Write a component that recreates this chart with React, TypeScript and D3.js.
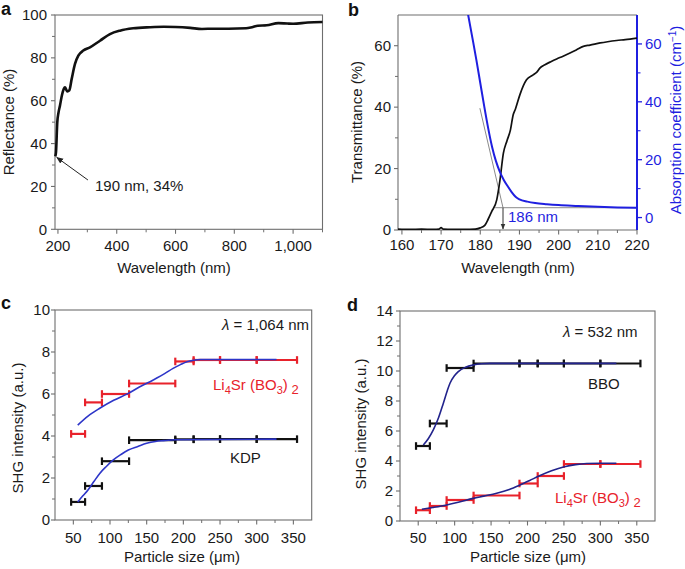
import React from 'react';
import * as d3 from 'd3';

// ---------- Panel a: reflectance ----------
const reflWl = [191, 193.4, 197.8, 202, 207, 212, 216.2, 220, 224, 228, 231.8, 238.6, 246.8, 258, 269.3, 286.3, 309, 343, 377, 411, 456, 513, 560, 600, 650, 690, 730, 780, 840, 860, 880, 910, 950, 980, 1000, 1050, 1100];
const reflVal = [34, 36, 50, 54.5, 57.8, 61.5, 64, 65.6, 66.3, 65.2, 64.3, 64.8, 70.2, 77.2, 81, 83.4, 84.9, 88, 91.1, 92.7, 93.8, 94.3, 94.5, 94.4, 94, 93.5, 93.6, 93.6, 93.8, 94.3, 95, 95.2, 96.2, 96, 95.9, 96.5, 96.7];
const aXTicks = [200, 400, 600, 800, 1000];
const aXMinor = [300, 500, 700, 900, 1100];
const aYTicks = [0, 20, 40, 60, 80, 100];
const aYMinor = [10, 30, 50, 70, 90];
const aNoteTip = [191, 34];
const aNoteTail = [302, 23];

// ---------- Panel b: transmittance / absorption ----------
const transWl = [159, 162, 165, 168, 169.5, 170, 170.5, 173, 176, 178.7, 180, 181.2, 182, 182.9, 184.2, 185, 185.9, 186.8, 187.7, 188.4, 189, 190.1, 191, 191.8, 193.5, 194.5, 195.2, 196.5, 198, 199.5, 201, 202.9, 204.5, 206.3, 208, 210.6, 212.5, 214.8, 217, 220];
const transVal = [0.3, 0.2, 0.3, 0.2, 0.3, 0.8, 0.3, 0.2, 0.2, 0.3, 0.7, 1.6, 3.5, 6, 9.8, 16, 25, 29, 32.6, 37.5, 39.5, 44, 47, 48.9, 50.5, 51.5, 52.7, 53.8, 54.8, 55.7, 56.5, 57.6, 58.6, 59.8, 60.2, 60.9, 61.3, 61.7, 62, 62.5];
const absWl = [176.5, 178, 179, 180, 181, 182, 183, 184, 185, 186, 187, 188, 189, 190, 192, 194, 197, 200, 205, 210, 215, 220];
const absVal = [73, 62, 54.5, 46.5, 38.5, 31, 24.5, 19.5, 15.8, 13, 10.8, 8.8, 7.2, 6.3, 5.5, 5.0, 4.6, 4.3, 4.0, 3.7, 3.5, 3.4];
const bXTicks = [160, 170, 180, 190, 200, 210, 220];
const bXMinor = [165, 175, 185, 195, 205, 215];
const bYTicks = [0, 20, 40, 60];
const bYMinor = [10, 30, 50];
const bRTicks = [0, 20, 40, 60];
const bRMinor = [10, 30, 50];
const bBaseline = 3.4; // absorption baseline
const bBaseStart = 183.8;
const bEdge = 185.8; // absorption edge
const bTangentTop = [179.9, 37.8];

// ---------- Panels c, d: SHG ----------
const sizeLo = [47, 66, 89, 126, 189, 214, 250, 300];
const sizeHi = [66, 89, 126, 189, 214, 250, 300, 355];
const cLiVal = [4.1, 5.6, 6.0, 6.5, 7.55, 7.62, 7.62, 7.62];
const cKdpVal = [0.86, 1.62, 2.8, 3.8, 3.84, 3.85, 3.85, 3.85];
const dBboVal = [5.0, 6.5, 10.2, 10.5, 10.5, 10.5, 10.5, 10.5];
const dLiVal = [0.72, 1.0, 1.4, 1.7, 2.5, 3.0, 3.8, 3.8];

const cFitLiX = [56, 70, 86, 105, 125, 140, 159, 175, 186, 196, 205, 214, 223, 240, 327];
const cFitLiY = [4.52, 4.95, 5.32, 5.7, 6.03, 6.33, 6.67, 6.98, 7.22, 7.4, 7.54, 7.61, 7.64, 7.64, 7.64];
const cFitKdpX = [56, 63, 70, 78, 86, 95, 104.5, 115, 125, 138, 150, 162, 173, 189, 327];
const cFitKdpY = [0.86, 1.15, 1.43, 1.83, 2.22, 2.55, 2.86, 3.12, 3.33, 3.5, 3.65, 3.74, 3.78, 3.82, 3.85];
const dFitBboX = [57, 64, 70.7, 78, 84.4, 90, 93.6, 100, 105, 115, 125.6, 137, 148.5, 322];
const dFitBboY = [5.07, 5.5, 6.07, 6.9, 7.84, 8.7, 9.18, 9.7, 9.96, 10.25, 10.4, 10.48, 10.51, 10.51];
const dFitLiX = [55, 70, 89, 105, 125.6, 140, 157.7, 175, 189.7, 203, 215.8, 233, 250.6, 266, 281.3, 300, 322];
const dFitLiY = [0.78, 0.9, 1.07, 1.25, 1.51, 1.66, 1.85, 2.1, 2.4, 2.7, 3.0, 3.35, 3.62, 3.76, 3.83, 3.85, 3.85];

const sXTicks = [50, 100, 150, 200, 250, 300, 350];
const sXMinor = [75, 125, 175, 225, 275, 325];
const cYTicks = [0, 2, 4, 6, 8, 10];
const cYMinor = [1, 3, 5, 7, 9];
const dYTicks = [0, 2, 4, 6, 8, 10, 12, 14];
const dYMinor = [1, 3, 5, 7, 9, 11, 13];

const FONT = "'Liberation Sans', Arial, Helvetica, sans-serif";
const GRAY = '#6e6e6e';
const TXT = '#1a1a1a';
const RED = '#e8222b';
const BLUE_B = '#1f1fe0';
const BLUE_C = '#2d35c8';
const BLUE_D = '#22238c';

type Scale = d3.ScaleLinear<number, number>;

function Frame({ x, y }: { x: Scale; y: Scale }) {
  const [x0, x1] = x.range();
  const [y0, y1] = y.range();
  return <rect x={x0} y={y1} width={x1 - x0} height={y0 - y1} fill="none" stroke={GRAY} strokeWidth={1.1} />;
}

function BottomAxis({ x, y, ticks, minor, fmt, labelY }: { x: Scale; y: Scale; ticks: number[]; minor: number[]; fmt: (v: number) => string; labelY: number }) {
  const yb = y.range()[0];
  return (
    <g>
      {ticks.map((t) => <line key={'M' + t} x1={x(t)} x2={x(t)} y1={yb} y2={yb + 4.5} stroke={GRAY} strokeWidth={1.1} />)}
      {minor.map((t) => <line key={'m' + t} x1={x(t)} x2={x(t)} y1={yb} y2={yb + 3} stroke={GRAY} strokeWidth={1} />)}
      {ticks.map((t) => <text key={'L' + t} x={x(t)} y={labelY} dy="0.35em" textAnchor="middle" fontSize={15} fill={TXT}>{fmt(t)}</text>)}
    </g>
  );
}

function LeftAxis({ x, y, ticks, minor, labelX }: { x: Scale; y: Scale; ticks: number[]; minor: number[]; labelX: number }) {
  const xl = x.range()[0];
  return (
    <g>
      {ticks.map((t) => <line key={'M' + t} x1={xl} x2={xl - 4} y1={y(t)} y2={y(t)} stroke={GRAY} strokeWidth={1.1} />)}
      {minor.map((t) => <line key={'m' + t} x1={xl} x2={xl - 3} y1={y(t)} y2={y(t)} stroke={GRAY} strokeWidth={1} />)}
      {ticks.map((t) => <text key={'L' + t} x={labelX} y={y(t)} dy="0.35em" textAnchor="end" fontSize={15} fill={TXT}>{t}</text>)}
    </g>
  );
}

function ErrBars({ x, y, vals, color }: { x: Scale; y: Scale; vals: number[]; color: string }) {
  return (
    <g stroke={color} strokeWidth={2.2} fill="none">
      {vals.map((v, i) => (
        <g key={i}>
          <line x1={x(sizeLo[i])} x2={x(sizeHi[i])} y1={y(v)} y2={y(v)} />
          <line x1={x(sizeLo[i])} x2={x(sizeLo[i])} y1={y(v) - 3.8} y2={y(v) + 3.8} />
          <line x1={x(sizeHi[i])} x2={x(sizeHi[i])} y1={y(v) - 3.8} y2={y(v) + 3.8} />
        </g>
      ))}
    </g>
  );
}

function fitPath(x: Scale, y: Scale, xs: number[], ys: number[]) {
  const line = d3.line<number>().x((_, i) => x(xs[i])).y((v) => y(v)).curve(d3.curveMonotoneX);
  return line(ys) || '';
}

function LiLabel({ x, y }: { x: number; y: number }) {
  return (
    <text x={x} y={y} fontSize={15} fill={RED}>
      Li<tspan dy={4} fontSize={11}>4</tspan>
      <tspan dy={-4}>Sr (BO</tspan>
      <tspan dy={4} fontSize={11}>3</tspan>
      <tspan dy={-4}>)</tspan>
      <tspan dy={4} fontSize={13}> 2</tspan>
    </text>
  );
}

export default function App() {
  React.useEffect(() => {
    document.body.style.margin = '0';
  }, []);

  const fmtC = d3.format(',');
  const fmtP = (v: number) => String(v);

  // scales
  const xa = d3.scaleLinear().domain([190, 1100]).range([55, 322.5]);
  const ya = d3.scaleLinear().domain([0, 100]).range([229.3, 15]);
  const xb = d3.scaleLinear().domain([159, 220]).range([398, 637]);
  const ybL = d3.scaleLinear().domain([0, 70]).range([230, 15]);
  const ybR = d3.scaleLinear().domain([-4.3, 70]).range([230, 15]);
  const xc = d3.scaleLinear().domain([25, 375]).range([55, 311.7]);
  const yc = d3.scaleLinear().domain([0, 10]).range([520, 310]);
  const xd = d3.scaleLinear().domain([25, 375]).range([400, 655]);
  const yd = d3.scaleLinear().domain([0, 14]).range([521, 311]);

  const reflPath = d3.line<number>().x((_, i) => xa(reflWl[i])).y((v) => ya(v)).curve(d3.curveMonotoneX)(reflVal) || '';
  const transPath = d3.line<number>().x((_, i) => xb(transWl[i])).y((v) => ybL(v)).curve(d3.curveMonotoneX)(transVal) || '';
  const absPath = d3.line<number>().x((_, i) => xb(absWl[i])).y((v) => ybR(v)).curve(d3.curveMonotoneX)(absVal) || '';

  return (
    <svg width={685} height={569} style={{ display: 'block', position: 'absolute', left: 0, top: 0, background: '#fff' }} fontFamily={FONT}>
      <defs>
        <marker id="arrA" viewBox="0 0 10 10" refX={9} refY={5} markerWidth={7} markerHeight={7} orient="auto" markerUnits="userSpaceOnUse">
          <path d="M0,1 L10,5 L0,9 z" fill="#222" />
        </marker>
        <marker id="arrB" viewBox="0 0 10 10" refX={9} refY={5} markerWidth={6} markerHeight={6} orient="auto" markerUnits="userSpaceOnUse">
          <path d="M0,1 L10,5 L0,9 z" fill="#333" />
        </marker>
        <clipPath id="clipB">
          <rect x={398} y={15} width={239} height={215} />
        </clipPath>
      </defs>

      {/* ---------- a ---------- */}
      <text x={1} y={15} fontSize={18} fontWeight="bold" fill="#111">a</text>
      <Frame x={xa} y={ya} />
      <LeftAxis x={xa} y={ya} ticks={aYTicks} minor={aYMinor} labelX={47} />
      <BottomAxis x={xa} y={ya} ticks={aXTicks} minor={aXMinor} fmt={fmtC} labelY={246} />
      <path d={reflPath} fill="none" stroke="#111" strokeWidth={2.6} strokeLinejoin="round" />
      <line x1={xa(aNoteTail[0])} y1={ya(aNoteTail[1])} x2={xa(aNoteTip[0]) + 1.5} y2={ya(aNoteTip[1]) + 1} stroke="#222" strokeWidth={1} markerEnd="url(#arrA)" />
      <text x={95} y={186} dy="0.35em" fontSize={15} fill={TXT}>190 nm, 34%</text>
      <text x={174} y={268} dy="0.35em" textAnchor="middle" fontSize={15} fill={TXT}>Wavelength (nm)</text>
      <text transform="translate(9,122) rotate(-90)" dy="0.35em" textAnchor="middle" fontSize={15} fill={TXT}>Reflectance (%)</text>

      {/* ---------- b ---------- */}
      <text x={348} y={16} fontSize={18} fontWeight="bold" fill="#111">b</text>
      <line x1={398} x2={637} y1={15} y2={15} stroke={GRAY} strokeWidth={1.1} />
      <line x1={398} x2={398} y1={15} y2={230} stroke={GRAY} strokeWidth={1.1} />
      <line x1={398} x2={637} y1={230} y2={230} stroke={GRAY} strokeWidth={1.1} />
      <LeftAxis x={xb} y={ybL} ticks={bYTicks} minor={bYMinor} labelX={391} />
      <BottomAxis x={xb} y={ybL} ticks={bXTicks} minor={bXMinor} fmt={fmtP} labelY={245} />
      {/* right axis */}
      <line x1={637} x2={637} y1={15} y2={230} stroke={BLUE_B} strokeWidth={2} />
      {bRTicks.map((t) => <line key={'r' + t} x1={637} x2={642} y1={ybR(t)} y2={ybR(t)} stroke={BLUE_B} strokeWidth={1.3} />)}
      {bRMinor.map((t) => <line key={'rm' + t} x1={637} x2={640.5} y1={ybR(t)} y2={ybR(t)} stroke={BLUE_B} strokeWidth={1.1} />)}
      {bRTicks.map((t) => <text key={'rl' + t} x={645} y={ybR(t)} dy="0.35em" fontSize={15} fill={BLUE_B}>{t}</text>)}
      <g clipPath="url(#clipB)">
        <line x1={xb(bBaseStart)} x2={xb(220)} y1={ybR(bBaseline)} y2={ybR(bBaseline)} stroke="#8a8a8a" strokeWidth={1} />
        <line x1={xb(bTangentTop[0])} y1={ybR(bTangentTop[1])} x2={xb(bEdge)} y2={ybR(bBaseline)} stroke="#8a8a8a" strokeWidth={1} />
        <path d={transPath} fill="none" stroke="#111" strokeWidth={1.7} />
        <path d={absPath} fill="none" stroke={BLUE_B} strokeWidth={2} />
      </g>
      <line x1={xb(bEdge)} x2={xb(bEdge)} y1={ybR(bBaseline)} y2={ybL(0) - 1} stroke="#333" strokeWidth={1} markerEnd="url(#arrB)" />
      <text x={508} y={217} dy="0.35em" fontSize={15} fill={BLUE_B}>186 nm</text>
      <text x={518} y={268} dy="0.35em" textAnchor="middle" fontSize={15} fill={TXT}>Wavelength (nm)</text>
      <text transform="translate(357,122) rotate(-90)" dy="0.35em" textAnchor="middle" fontSize={15} fill={TXT}>Transmittance (%)</text>
      <text transform="translate(676,120) rotate(-90)" dy="0.35em" textAnchor="middle" fontSize={15} fill={BLUE_B}>
        Absorption coefficient (cm<tspan dy={-5} fontSize={10}>−1</tspan><tspan dy={5}>)</tspan>
      </text>

      {/* ---------- c ---------- */}
      <text x={1} y={309} fontSize={18} fontWeight="bold" fill="#111">c</text>
      <Frame x={xc} y={yc} />
      <LeftAxis x={xc} y={yc} ticks={cYTicks} minor={cYMinor} labelX={50} />
      <BottomAxis x={xc} y={yc} ticks={sXTicks} minor={sXMinor} fmt={fmtP} labelY={538} />
      <ErrBars x={xc} y={yc} vals={cLiVal} color={RED} />
      <ErrBars x={xc} y={yc} vals={cKdpVal} color="#111" />
      <path d={fitPath(xc, yc, cFitLiX, cFitLiY)} fill="none" stroke={BLUE_C} strokeWidth={1.6} />
      <path d={fitPath(xc, yc, cFitKdpX, cFitKdpY)} fill="none" stroke={BLUE_C} strokeWidth={1.6} />
      <text x={222} y={325} dy="0.35em" fontSize={15} fill={TXT}><tspan fontStyle="italic">λ</tspan> = 1,064 nm</text>
      <LiLabel x={213} y={390} />
      <text x={230} y={463} fontSize={15} fill={TXT}>KDP</text>
      <text x={182} y={557} dy="0.35em" textAnchor="middle" fontSize={15} fill={TXT}>Particle size (μm)</text>
      <text transform="translate(18,428) rotate(-90)" dy="0.35em" textAnchor="middle" fontSize={15} fill={TXT}>SHG intensity (a.u.)</text>

      {/* ---------- d ---------- */}
      <text x={347} y={311} fontSize={18} fontWeight="bold" fill="#111">d</text>
      <Frame x={xd} y={yd} />
      <LeftAxis x={xd} y={yd} ticks={dYTicks} minor={dYMinor} labelX={393} />
      <BottomAxis x={xd} y={yd} ticks={sXTicks} minor={sXMinor} fmt={fmtP} labelY={538} />
      <ErrBars x={xd} y={yd} vals={dBboVal} color="#111" />
      <ErrBars x={xd} y={yd} vals={dLiVal} color={RED} />
      <path d={fitPath(xd, yd, dFitBboX, dFitBboY)} fill="none" stroke={BLUE_D} strokeWidth={1.6} />
      <path d={fitPath(xd, yd, dFitLiX, dFitLiY)} fill="none" stroke={BLUE_D} strokeWidth={1.6} />
      <text x={563} y={332} dy="0.35em" fontSize={15} fill={TXT}><tspan fontStyle="italic">λ</tspan> = 532 nm</text>
      <text x={588} y={389} fontSize={15} fill={TXT}>BBO</text>
      <LiLabel x={555} y={503} />
      <text x={528} y={557} dy="0.35em" textAnchor="middle" fontSize={15} fill={TXT}>Particle size (μm)</text>
      <text transform="translate(361,424) rotate(-90)" dy="0.35em" textAnchor="middle" fontSize={15} fill={TXT}>SHG intensity (a.u.)</text>
    </svg>
  );
}
